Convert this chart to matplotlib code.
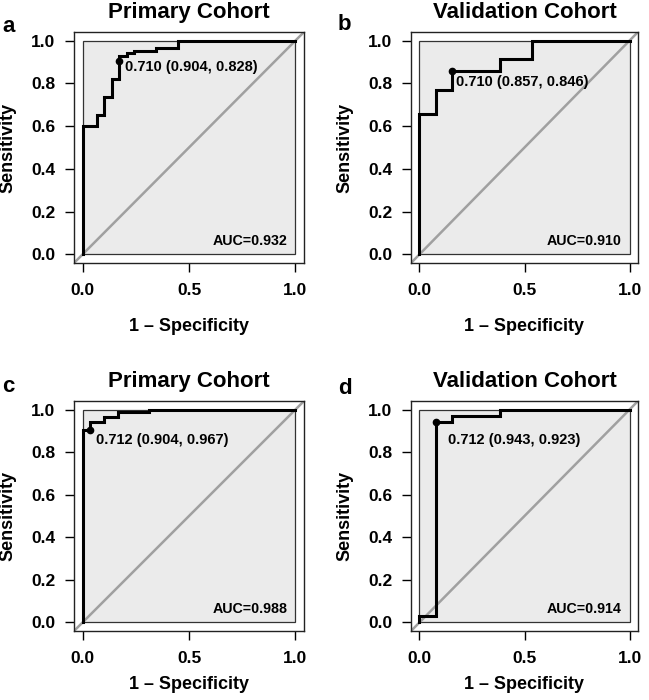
import matplotlib
matplotlib.use("Agg")
import matplotlib.pyplot as plt
from matplotlib.patches import Rectangle

plt.rcParams['font.family'] = ['Liberation Sans', 'DejaVu Sans']
plt.rcParams['font.weight'] = 'bold'

# ---- data ----
panel_letters = ["a", "b", "c", "d"]
titles = ["Primary Cohort", "Validation Cohort", "Primary Cohort", "Validation Cohort"]

fpr_a = [0, 0, 0.069, 0.103, 0.138, 0.172, 0.207, 0.241, 0.345, 0.448, 1.0]
tpr_a = [0, 0.602, 0.651, 0.735, 0.822, 0.928, 0.940, 0.952, 0.964, 1.0, 1.0]

fpr_b = [0, 0, 0.077, 0.154, 0.385, 0.538, 1.0]
tpr_b = [0, 0.657, 0.771, 0.857, 0.914, 1.0, 1.0]

fpr_c = [0, 0, 0.033, 0.100, 0.167, 0.310, 1.0]
tpr_c = [0, 0.904, 0.942, 0.964, 0.987, 1.0, 1.0]

fpr_d = [0, 0, 0.077, 0.154, 0.385, 1.0]
tpr_d = [0, 0.029, 0.943, 0.971, 1.0, 1.0]

thresholds = [0.710, 0.710, 0.712, 0.712]
thr_sens = [0.904, 0.857, 0.904, 0.943]
thr_spec = [0.828, 0.846, 0.967, 0.923]
aucs = [0.932, 0.910, 0.988, 0.914]

# label offsets relative to threshold point (data units)
label_dx = [0.026, 0.021, 0.032, 0.061]
label_dy = [-0.026, -0.051, -0.046, -0.084]

curves = [(fpr_a, tpr_a), (fpr_b, tpr_b), (fpr_c, tpr_c), (fpr_d, tpr_d)]

W, H = 649, 700
fig = plt.figure(figsize=(W / 100, H / 100), dpi=100)

# axes boxes in pixel coords (left, top, right, bottom)
boxes = [(74, 32, 304, 263), (411, 32, 638, 263),
         (74, 401, 304, 631), (411, 401, 638, 631)]
letter_pos = [(2, 27), (338, 25), (2, 387), (338, 388)]
ylabel_x = [16, 353, 16, 353]
xlabel_pad = [14, 14, 7, 7]

for i in range(4):
    l, t, r, b = boxes[i]
    ax = fig.add_axes([l / W, 1 - b / H, (r - l) / W, (b - t) / H])
    ax.set_xlim(-0.04, 1.04)
    ax.set_ylim(-0.04, 1.04)
    ax.add_patch(Rectangle((0, 0), 1, 1, facecolor='#ebebeb', edgecolor='#333333',
                           linewidth=0.9, zorder=0))
    ax.plot([-0.04, 1.04], [-0.04, 1.04], color='#a0a0a0', linewidth=1.8, zorder=1)
    fx, ty = curves[i]
    ax.plot(fx, ty, color='black', linewidth=2.2, drawstyle='steps-post', zorder=3,
            solid_joinstyle='miter')
    px = 1 - thr_spec[i]
    py = thr_sens[i]
    ax.plot([px], [py], marker='o', color='black', markersize=4.5, zorder=4)
    ax.text(px + label_dx[i], py + label_dy[i],
            f"{thresholds[i]:.3f} ({thr_sens[i]:.3f}, {thr_spec[i]:.3f})",
            fontsize=10.5, fontweight='bold', ha='left', va='center', zorder=5)
    ax.text(0.962, 0.062, f"AUC={aucs[i]:.3f}", fontsize=10.3, fontweight='bold',
            ha='right', va='center', zorder=5)

    ax.set_xticks([0, 0.5, 1.0])
    ax.set_xticklabels(["0.0", "0.5", "1.0"])
    ax.set_yticks([0, 0.2, 0.4, 0.6, 0.8, 1.0])
    ax.set_yticklabels(["0.0", "0.2", "0.4", "0.6", "0.8", "1.0"])
    ax.tick_params(axis='both', direction='out', length=6.5, width=1.0,
                   labelsize=12.5, pad=7)
    ax.tick_params(axis='x', pad=8)
    for lab in ax.get_xticklabels() + ax.get_yticklabels():
        lab.set_fontweight('bold')
    for sp in ax.spines.values():
        sp.set_linewidth(1.0)
        sp.set_color('#222222')

    ax.set_xlabel("1 \u2013 Specificity", fontsize=13, fontweight='bold',
                  labelpad=xlabel_pad[i])
    ax.set_ylabel("Sensitivity", fontsize=13, fontweight='bold')
    ax.yaxis.set_label_coords((ylabel_x[i] - l) / (r - l), 0.5)
    ax.set_title(titles[i], fontsize=16, fontweight='bold', pad=10)

    lx, ly = letter_pos[i]
    fig.text(lx / W, 1 - ly / H, panel_letters[i], fontsize=16, fontweight='bold',
             ha='left', va='center')

fig.savefig("out.png", dpi=100)
